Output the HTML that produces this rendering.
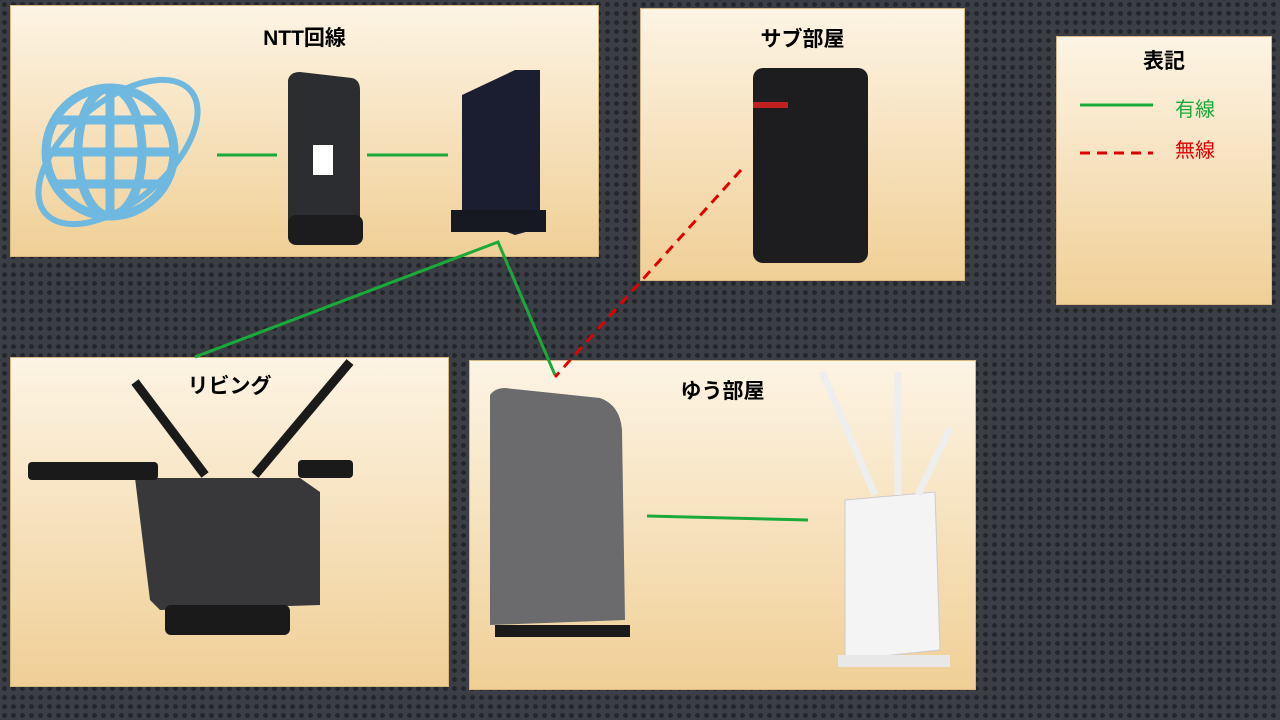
<!DOCTYPE html>
<html><head><meta charset="utf-8"><style>
body{margin:0;width:1280px;height:720px;overflow:hidden;background-color:#3b3f45;background-image:radial-gradient(circle,#23262a 2.2px,transparent 2.6px);background-size:9px 9px;font-family:"Liberation Sans","Noto Sans CJK JP",sans-serif}
.b{position:absolute;background:linear-gradient(#fdf4e4,#f0cf96);border:1px solid #d8b880}
.t{position:absolute;left:0;right:0;text-align:center;font-weight:bold;font-size:21px;color:#000}
svg{position:absolute;left:0;top:0}
</style></head><body>
<div class="b" style="left:10px;top:5px;width:587px;height:250px"><div class="t" style="top:16px">NTT回線</div></div>
<div class="b" style="left:640px;top:8px;width:323px;height:271px"><div class="t" style="top:14px">サブ部屋</div></div>
<div class="b" style="left:1056px;top:36px;width:214px;height:267px"><div class="t" style="top:8px">表記</div>
<div style="position:absolute;left:118px;top:56px;color:#1aaa3a;font-size:20px">有線</div>
<div style="position:absolute;left:118px;top:97px;color:#e00000;font-size:20px">無線</div></div>
<div class="b" style="left:10px;top:357px;width:437px;height:328px"><div class="t" style="top:12px">リビング</div></div>
<div class="b" style="left:469px;top:360px;width:505px;height:328px"><div class="t" style="top:14px">ゆう部屋</div></div>
<svg width="1280" height="720">
<g fill="none" stroke="#6fb8e0" stroke-width="9">
<circle cx="110" cy="152" r="64"/><ellipse cx="110" cy="152" rx="32" ry="64"/>
<line x1="110" y1="88" x2="110" y2="216"/><line x1="46" y1="152" x2="174" y2="152"/>
<line x1="55" y1="120" x2="165" y2="120"/><line x1="55" y1="184" x2="165" y2="184"/>
<ellipse cx="118" cy="152" rx="95" ry="50" transform="rotate(-40 118 152)" stroke-width="6"/></g>
<path d="M288 80 Q290 72 300 72 L352 78 Q360 80 360 90 L360 225 L288 228Z" fill="#2c2d30"/>
<rect x="288" y="215" width="75" height="30" rx="8" fill="#1c1c1e"/>
<rect x="313" y="145" width="20" height="30" fill="#fff"/>
<path d="M462 95 L515 70 L540 70 L540 228 L515 235 L462 215Z" fill="#1b1d30"/>
<rect x="451" y="210" width="95" height="22" fill="#161822"/>
<rect x="753" y="68" width="115" height="195" rx="10" fill="#1d1d1f"/>
<rect x="753" y="102" width="35" height="6" fill="#c02020"/>
<path d="M135 478 L300 478 L320 492 L320 605 L160 610 L150 600Z" fill="#38383a"/>
<rect x="165" y="605" width="125" height="30" rx="6" fill="#1a1a1a"/>
<rect x="28" y="462" width="130" height="18" rx="4" fill="#1a1a1a"/>
<rect x="298" y="460" width="55" height="18" rx="4" fill="#1a1a1a"/>
<line x1="135" y1="382" x2="205" y2="475" stroke="#1a1a1a" stroke-width="9"/>
<line x1="350" y1="362" x2="255" y2="475" stroke="#1a1a1a" stroke-width="9"/>
<path d="M490 395 Q495 388 505 388 L600 398 Q620 405 622 430 L625 620 L490 625Z" fill="#6b6b6d"/>
<rect x="495" y="625" width="135" height="12" fill="#1a1a1a"/>
<path d="M845 500 L935 492 L940 650 L845 660Z" fill="#f4f4f4" stroke="#ccc"/>
<rect x="838" y="655" width="112" height="12" fill="#e8e8e8"/>
<g stroke="#eee" stroke-width="7"><line x1="822" y1="372" x2="875" y2="495"/><line x1="898" y1="372" x2="898" y2="495"/><line x1="950" y1="428" x2="918" y2="495"/></g>
<g stroke="#1aaa3a" stroke-width="3" fill="none">
<line x1="217" y1="155" x2="277" y2="155"/><line x1="367" y1="155" x2="448" y2="155"/>
<polyline points="195,357 498,242 555,375"/>
<line x1="647" y1="516" x2="808" y2="520"/>
<line x1="1080" y1="105" x2="1153" y2="105"/></g>
<g stroke="#e00000" stroke-width="3" stroke-dasharray="10,7">
<line x1="741" y1="170" x2="555" y2="377"/><line x1="1080" y1="153" x2="1153" y2="153"/></g>
</svg>
</body></html>
